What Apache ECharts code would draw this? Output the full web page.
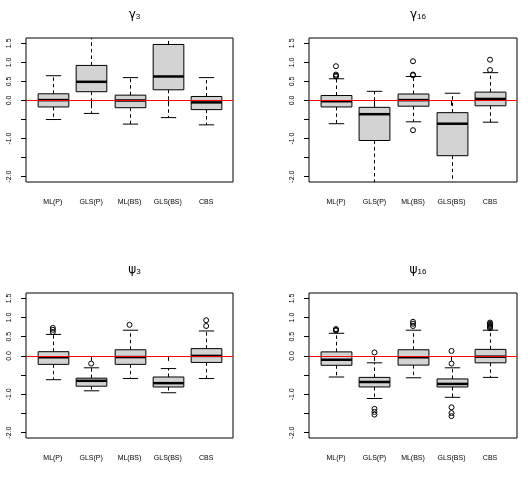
<!DOCTYPE html>
<html><head><meta charset="utf-8">
<script src="https://cdn.jsdelivr.net/npm/echarts@6/dist/echarts.min.js"></script>
<style>html,body{margin:0;padding:0;background:#fff}#c{width:528px;height:480px}</style>
</head><body><div id="c"></div>
<script>
const categories = ['ML(P)', 'GLS(P)', 'ML(BS)', 'GLS(BS)', 'CBS'];
const titleSymbols = ['γ', 'γ', 'ψ', 'ψ'];
const titleSubscripts = ['3', '16', '3', '16'];
const yTickValues = [-2, -1.5, -1, -0.5, 0, 0.5, 1, 1.5];
const yLabelValues = [-2, -1, 0, 0.5, 1, 1.5];
const xTickValues = [1, 2, 3, 4, 5];

// [lower whisker, Q1, median, Q3, upper whisker]
const gamma3Stats = [
  [-0.50, -0.17, 0.01, 0.175, 0.65],
  [-0.34, 0.23, 0.49, 0.92, 1.95],
  [-0.62, -0.19, 0.00, 0.14, 0.60],
  [-0.45, 0.28, 0.63, 1.47, 2.2],
  [-0.64, -0.24, -0.05, 0.105, 0.60]
];
const gamma3Outliers = [[], [], [], [], []];

const gamma16Stats = [
  [-0.61, -0.17, -0.02, 0.13, 0.57],
  [-2.5, -1.05, -0.36, -0.18, 0.24],
  [-0.56, -0.15, 0.01, 0.17, 0.63],
  [-2.5, -1.45, -0.61, -0.32, 0.19],
  [-0.57, -0.14, 0.04, 0.22, 0.73]
];
const gamma16Outliers = [
  [0.90, 0.68, 0.65, 0.63],
  [],
  [1.03, 0.68, 0.66, -0.78],
  [],
  [1.07, 0.80]
];

const psi3Stats = [
  [-0.62, -0.22, -0.035, 0.11, 0.56],
  [-0.91, -0.79, -0.65, -0.58, -0.31],
  [-0.59, -0.22, -0.03, 0.16, 0.67],
  [-0.96, -0.81, -0.71, -0.55, -0.33],
  [-0.59, -0.17, 0.00, 0.19, 0.65]
];
const psi3Outliers = [
  [0.73, 0.68, 0.62],
  [-0.20],
  [0.81],
  [],
  [0.93, 0.78]
];

const psi16Stats = [
  [-0.55, -0.245, -0.10, 0.105, 0.59],
  [-1.11, -0.81, -0.68, -0.56, -0.18],
  [-0.57, -0.24, -0.035, 0.16, 0.67],
  [-1.08, -0.81, -0.73, -0.60, -0.31],
  [-0.56, -0.18, -0.02, 0.17, 0.67]
];
const psi16Outliers = [
  [0.70, 0.68, 0.66],
  [0.09, -1.38, -1.46, -1.53],
  [0.89, 0.84, 0.78],
  [0.13, -0.20, -1.34, -1.49, -1.57],
  [0.87, 0.84, 0.81, 0.78, 0.75, 0.72]
];

const panelStats = [gamma3Stats, gamma16Stats, psi3Stats, psi16Stats];
const panelOutliers = [gamma3Outliers, gamma16Outliers, psi3Outliers, psi16Outliers];

const gridBoxes = [
  {left: 26, top: 38, width: 207, height: 144},
  {left: 309, top: 38, width: 208, height: 144},
  {left: 26, top: 293, width: 207, height: 145},
  {left: 309, top: 293, width: 208, height: 145}
];
const titleTops = [3, 3, 258, 258];

const FONT = '"Liberation Sans", Arial, sans-serif';

function renderBox(params, api) {
  const x = api.value(0);
  const lo = api.coord([x, api.value(1)]);
  const q1 = api.coord([x, api.value(2)]);
  const med = api.coord([x, api.value(3)]);
  const q3 = api.coord([x, api.value(4)]);
  const hi = api.coord([x, api.value(5)]);
  const hw = api.size([0.4, 0])[0];
  const cw = api.size([0.2, 0])[0];
  const cx = Math.round(med[0]) + 0.5;
  const dash = {stroke: '#000', lineWidth: 1, lineDash: [3.5, 3], fill: null};
  const solid = {stroke: '#000', lineWidth: 1, fill: null};
  return {type: 'group', children: [
    {type: 'line', shape: {x1: cx, y1: q3[1], x2: cx, y2: hi[1]}, style: dash},
    {type: 'line', shape: {x1: cx, y1: q1[1], x2: cx, y2: lo[1]}, style: dash},
    {type: 'line', shape: {x1: cx - cw, y1: hi[1], x2: cx + cw, y2: hi[1]}, style: solid},
    {type: 'line', shape: {x1: cx - cw, y1: lo[1], x2: cx + cw, y2: lo[1]}, style: solid},
    {type: 'rect', shape: {x: cx - hw, y: q3[1], width: 2 * hw, height: q1[1] - q3[1]},
      style: {fill: '#D3D3D3', stroke: '#000', lineWidth: 1}},
    {type: 'line', shape: {x1: cx - hw, y1: med[1], x2: cx + hw, y2: med[1]},
      style: {stroke: '#000', lineWidth: 2.5}}
  ]};
}

const grids = [], xAxes = [], yAxes = [], series = [], titles = [];
for (let p = 0; p < 4; p++) {
  grids.push(Object.assign({show: true, borderColor: '#000', borderWidth: 1, backgroundColor: 'transparent'}, gridBoxes[p]));
  titles.push({
    text: '{g|' + titleSymbols[p] + '}{s|' + titleSubscripts[p] + '}',
    left: gridBoxes[p].left + gridBoxes[p].width / 2,
    top: titleTops[p],
    textAlign: 'center',
    textStyle: {
      fontWeight: 'normal',
      rich: {
        g: {fontSize: 12, fontWeight: 'normal', fontFamily: '"DejaVu Sans", sans-serif', color: '#000', verticalAlign: 'bottom'},
        s: {fontSize: 8, fontWeight: 'normal', fontFamily: FONT, color: '#000', padding: [5, 0, 0, 0], verticalAlign: 'bottom'}
      }
    }
  });
  xAxes.push({
    type: 'value', gridIndex: p, min: 0.3, max: 5.7,
    axisLine: {show: false},
    splitLine: {show: false},
    axisTick: {show: true, customValues: xTickValues, length: 5, inside: false, lineStyle: {color: '#000', width: 1}},
    axisLabel: {show: true, customValues: xTickValues, margin: 17, fontSize: 7, fontFamily: FONT, color: '#000',
      formatter: v => categories[Math.round(v) - 1]}
  });
  yAxes.push({
    type: 'value', gridIndex: p, min: -2.14, max: 1.64,
    axisLine: {show: false},
    splitLine: {show: false},
    axisTick: {show: true, customValues: yTickValues, length: 5, inside: false, lineStyle: {color: '#000', width: 1}},
    axisLabel: {show: true, customValues: yLabelValues, rotate: 90, margin: 13, fontSize: 7, fontFamily: FONT, color: '#000',
      formatter: v => v.toFixed(1)}
  });
  series.push({
    type: 'custom', xAxisIndex: p, yAxisIndex: p, clip: true, z: 2,
    renderItem: renderBox,
    encode: {x: 0, y: [1, 2, 3, 4, 5]},
    data: panelStats[p].map((s, i) => [xTickValues[i]].concat(s))
  });
  const outPts = [];
  panelOutliers[p].forEach((arr, i) => arr.forEach(v => outPts.push([xTickValues[i], v])));
  series.push({
    type: 'scatter', xAxisIndex: p, yAxisIndex: p, z: 3,
    symbol: 'circle', symbolSize: 5,
    itemStyle: {color: 'rgba(0,0,0,0)', borderColor: '#000', borderWidth: 1, opacity: 1},
    data: outPts,
    markLine: {
      silent: true, symbol: ['none', 'none'], label: {show: false},
      lineStyle: {color: '#FF0000', width: 1, type: 'solid'},
      emphasis: {disabled: true},
      data: [{yAxis: 0}]
    }
  });
}

const chart = echarts.init(document.getElementById('c'), null, {renderer: 'canvas'});
chart.setOption({
  animation: false,
  backgroundColor: '#fff',
  title: titles,
  grid: grids,
  xAxis: xAxes,
  yAxis: yAxes,
  series: series
});
</script>
</body></html>
